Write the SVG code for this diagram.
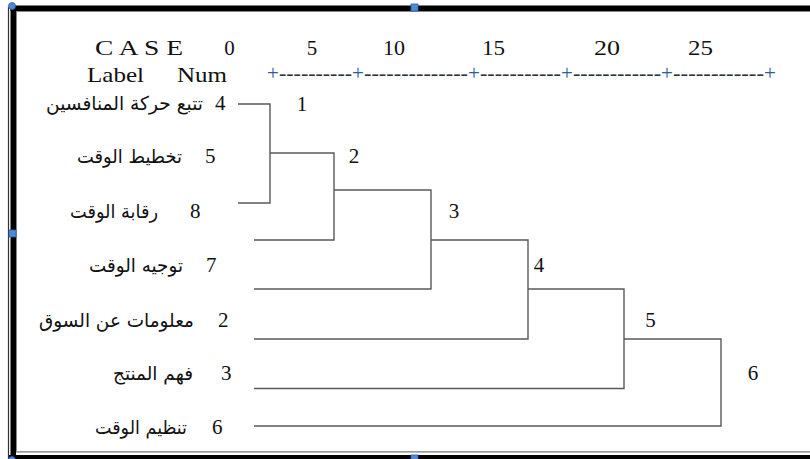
<svg xmlns="http://www.w3.org/2000/svg" width="810" height="459" viewBox="0 0 810 459">
<style>
.t{font-family:"Liberation Serif","Times New Roman",serif;font-size:21px;fill:#111}
.ar{font-family:"DejaVu Sans","Noto Sans",sans-serif;font-size:19px;fill:#111}
.pl{font-family:"Liberation Serif",serif;font-size:21px;fill:#2a5d9a}
.ds{font-family:"Liberation Serif",serif;font-size:21px;fill:#2b3340}
.ln{fill:none;stroke:#5a5a5a;stroke-width:1.4}
.h{fill:#4f8ad8;stroke:#2c5fa8;stroke-width:0.8}
</style>
<rect x="0" y="0" width="810" height="459" fill="#fff"/>
<g id="frame">
<rect x="10.5" y="5.5" width="800" height="5.5" fill="#000"/>
<line x1="16" y1="11.5" x2="810" y2="11.5" stroke="#888" stroke-width="1"/>
<rect x="10.5" y="5.5" width="5.5" height="450" fill="#000"/>
<line x1="8.5" y1="7" x2="8.5" y2="459" stroke="#333" stroke-width="1.2"/>
<line x1="16.5" y1="11" x2="16.5" y2="451" stroke="#888" stroke-width="1"/>
<line x1="16" y1="451.8" x2="810" y2="451.8" stroke="#777" stroke-width="1.2"/>
<rect x="9" y="455" width="801" height="4" fill="#000"/>
<circle class="h" cx="12" cy="6" r="3.5"/>
<rect class="h" x="411" y="4" width="7" height="7"/>
<rect class="h" x="9" y="230" width="7" height="7"/>
<rect class="h" x="411" y="455" width="7" height="7"/>
<circle class="h" cx="12" cy="460" r="3.5"/>
</g>
<g id="header">
<text class="t" x="95" y="55" textLength="88" lengthAdjust="spacingAndGlyphs">C A S E</text>
<text class="t" x="229.5" y="55" text-anchor="middle">0</text>
<text class="t" x="312" y="55" text-anchor="middle">5</text>
<text class="t" x="394" y="55" text-anchor="middle" textLength="22" lengthAdjust="spacingAndGlyphs">10</text>
<text class="t" x="493.5" y="55" text-anchor="middle" textLength="23" lengthAdjust="spacingAndGlyphs">15</text>
<text class="t" x="607" y="55" text-anchor="middle" textLength="26" lengthAdjust="spacingAndGlyphs">20</text>
<text class="t" x="700.5" y="55" text-anchor="middle" textLength="25" lengthAdjust="spacingAndGlyphs">25</text>
<text class="t" x="87" y="82" textLength="57" lengthAdjust="spacingAndGlyphs">Label</text>
<text class="t" x="177" y="82" textLength="50" lengthAdjust="spacingAndGlyphs">Num</text>
</g>
<g id="ruler">
<text class="pl" y="80"><tspan x="267">+</tspan><tspan x="352">+</tspan><tspan x="468">+</tspan><tspan x="561">+</tspan><tspan x="661">+</tspan><tspan x="764">+</tspan></text>
<text class="ds" x="279" y="80" textLength="73" lengthAdjust="spacingAndGlyphs">----------</text>
<text class="ds" x="364" y="80" textLength="104" lengthAdjust="spacingAndGlyphs">--------------</text>
<text class="ds" x="480" y="80" textLength="81" lengthAdjust="spacingAndGlyphs">-----------</text>
<text class="ds" x="573" y="80" textLength="88" lengthAdjust="spacingAndGlyphs">------------</text>
<text class="ds" x="673" y="80" textLength="91" lengthAdjust="spacingAndGlyphs">------------</text>
</g>
<g id="case4"><text class="ar" x="46" y="110" textLength="157" lengthAdjust="spacingAndGlyphs">تتبع حركة المنافسين</text><text class="t" x="215" y="110">4</text></g>
<g id="case5"><text class="ar" x="77" y="163" textLength="105" lengthAdjust="spacingAndGlyphs">تخطيط الوقت</text><text class="t" x="205" y="163">5</text></g>
<g id="case8"><text class="ar" x="70" y="218" textLength="88" lengthAdjust="spacingAndGlyphs">رقابة الوقت</text><text class="t" x="190" y="218">8</text></g>
<g id="case7"><text class="ar" x="89" y="272" textLength="94" lengthAdjust="spacingAndGlyphs">توجيه الوقت</text><text class="t" x="206" y="272">7</text></g>
<g id="case2"><text class="ar" x="39" y="327" textLength="155" lengthAdjust="spacingAndGlyphs">معلومات عن السوق</text><text class="t" x="218" y="327">2</text></g>
<g id="case3"><text class="ar" x="113" y="380" textLength="80" lengthAdjust="spacingAndGlyphs">فهم المنتج</text><text class="t" x="221" y="380">3</text></g>
<g id="case6"><text class="ar" x="95" y="434" textLength="92" lengthAdjust="spacingAndGlyphs">تنظيم الوقت</text><text class="t" x="212" y="434">6</text></g>
<g id="connectors">
<path class="ln" d="M238,104 H270 V203 H238"/>
<path class="ln" d="M270,153 H334 V240 H254"/>
<path class="ln" d="M334,190 H431 V289 H254"/>
<path class="ln" d="M431,240 H528 V339 H254"/>
<path class="ln" d="M528,289 H624 V388.5 H254"/>
<path class="ln" d="M624,339 H721 V426 H254"/>
</g>
<g id="clusters">
<text class="t" x="302" y="111" text-anchor="middle">1</text>
<text class="t" x="354" y="163" text-anchor="middle">2</text>
<text class="t" x="454" y="218" text-anchor="middle">3</text>
<text class="t" x="539" y="272" text-anchor="middle">4</text>
<text class="t" x="650.5" y="327" text-anchor="middle">5</text>
<text class="t" x="753" y="380" text-anchor="middle">6</text>
</g>
</svg>
